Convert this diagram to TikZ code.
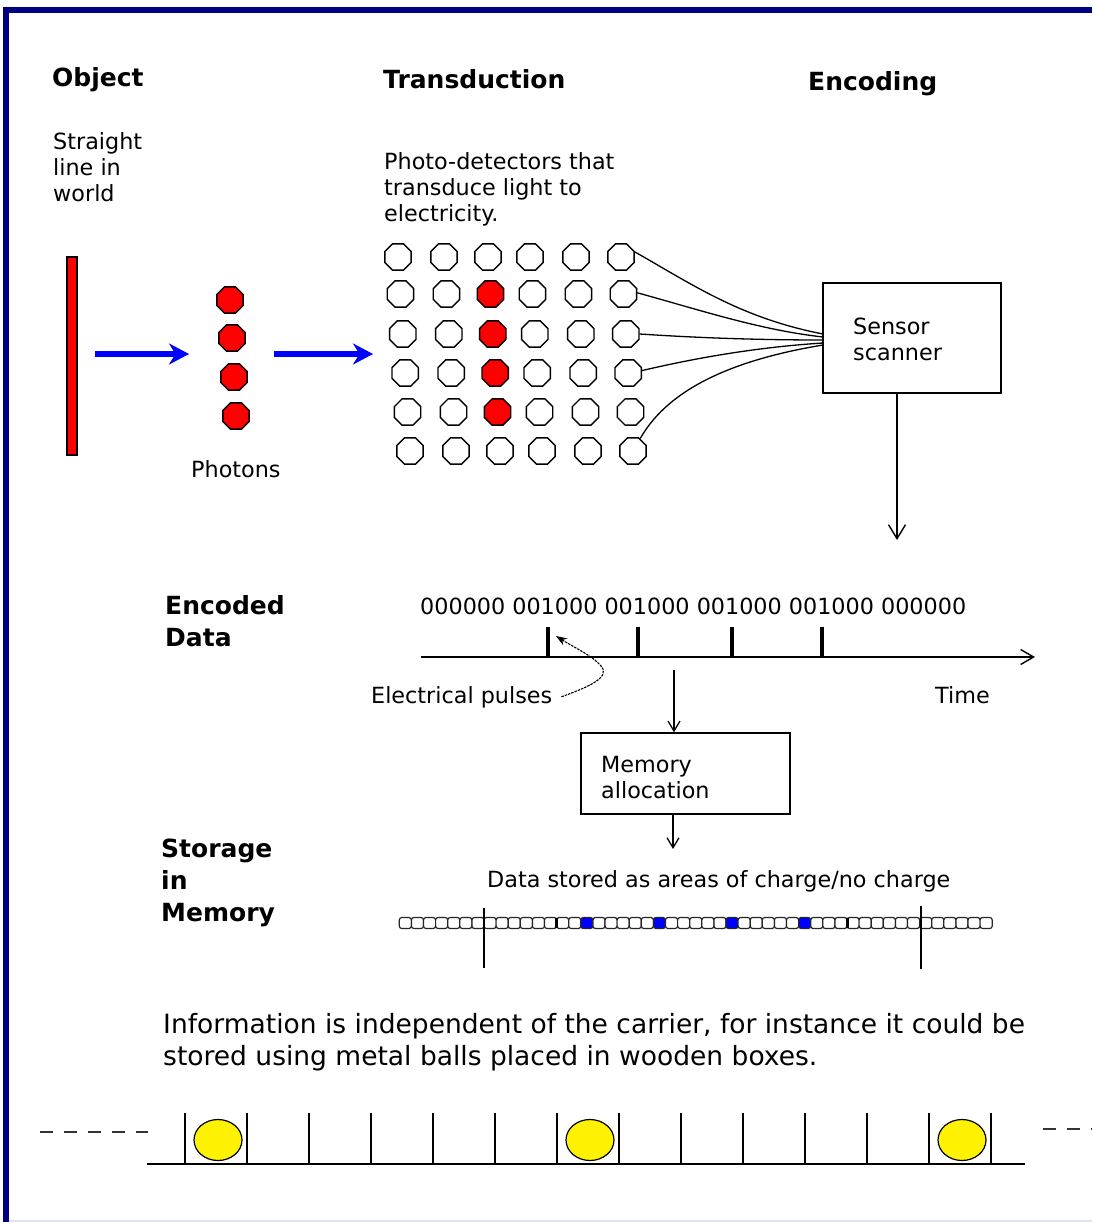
\documentclass[tikz,border=0pt]{standalone}
\usepackage{fontspec}
\setmainfont{DejaVu Sans}
\usetikzlibrary{arrows.meta,shapes.geometric}
\newcommand\nf{\fontsize{22.3pt}{26pt}\selectfont}
\newcommand\hdf{\fontsize{25pt}{32pt}\selectfont\bfseries}
\newcommand\bigf{\fontsize{26.5pt}{32pt}\selectfont}
\definecolor{navy}{RGB}{0,0,128}
\definecolor{paleline}{RGB}{225,225,240}
\begin{document}
\begin{tikzpicture}[x=1pt,y=-1pt,
  txt/.style={font=\nf, anchor=base west, inner sep=0pt},
  hd/.style={font=\hdf, anchor=base west, inner sep=0pt},
  btxt/.style={font=\bigf, anchor=base west, inner sep=0pt},
  det/.style={regular polygon, regular polygon sides=8, minimum size=28.5pt, inner sep=0pt, draw=black, line width=1.4pt},
  framebox/.style={draw=black, line width=1.4pt, rectangle, inner sep=0pt},
  wire/.style={draw=black, line width=1.3pt},
  vline/.style={draw=black, line width=1.4pt},
  barbarrow/.style={draw=black, line width=1.4pt, -{Straight Barb[length=14pt,width=17pt]}},
  smallarrow/.style={draw=black, line width=1.3pt, -{Straight Barb[length=10pt,width=12pt]}},
  bluearrow/.style={draw=blue, line width=5.5pt, -{Stealth[length=20pt,width=21pt]}},
  cell/.style={draw=black!85, rounded corners=2.5pt, line width=1.2pt, minimum width=12.1pt, minimum height=11pt, inner sep=0pt},
  ball/.style={ellipse, draw=black, fill=yellow, minimum width=48pt, minimum height=41pt, inner sep=0pt, line width=1.2pt},
  dashline/.style={draw=black!80, line width=1.4pt, dash pattern=on 13pt off 11pt}
]
\useasboundingbox (0,0) rectangle (1092,1222);
\fill[white] (0,0) rectangle (1092,1222);
% frame
\fill[navy] (3,7) rectangle (1092,13);
\fill[navy] (3,7) rectangle (9,1222);
\draw[paleline, line width=1.5pt] (9,1221) -- (1092,1221);

% headings
\node[hd] (hobj) at (52,87) {Object};
\node[hd] (htr) at (383,89) {Transduction};
\node[hd] (henc) at (808,91) {Encoding};

\node[txt] (s1) at (53,150) {Straight};
\node[txt] (s2) at (53,176) {line in};
\node[txt] (s3) at (53,202) {world};

\node[txt] (pd1) at (384,170) {Photo-detectors that};
\node[txt] (pd2) at (384,196) {transduce light to};
\node[txt] (pd3) at (384,222) {electricity.};

% object bar
\node[draw=black, fill=red, line width=1.3pt, minimum width=10pt, minimum height=198pt, inner sep=0pt] (bar) at (72,356) {};

% photons
\node[det, fill=red] (ph1) at (230,300) {};
\node[det, fill=red] (ph2) at (232,338) {};
\node[det, fill=red] (ph3) at (234,377) {};
\node[det, fill=red] (ph4) at (236,416) {};
\node[txt] (phl) at (191,477) {Photons};

% blue arrows
\coordinate (a1s) at (95,354);
\coordinate (a1e) at (189,354);
\coordinate (a2s) at (274,354);
\coordinate (a2e) at (373,354);
\draw[bluearrow] (a1s) -- (a1e);
\draw[bluearrow] (a2s) -- (a2e);

% detector grid
\foreach \r/\y in {0/257,1/294,2/334,3/373,4/412,5/451} {
  \foreach \c/\x in {0/398,1/444,2/488,3/530,4/576,5/621} {
    \pgfmathtruncatemacro\isred{(\c==2)&&(\r>0)&&(\r<5)}
    \ifnum\isred=1 \def\fc{red}\else\def\fc{white}\fi
    \node[det, fill=\fc] (d\r\c) at ({\x+2.4*\r},\y) {};
  }
}

% sensor scanner
\node[framebox, minimum width=178pt, minimum height=110pt] (sens) at (912,338) {};
\node[txt] (sn1) at (853,334) {Sensor};
\node[txt] (sn2) at (853,360) {scanner};

\coordinate (w0) at (823,334);
\coordinate (w1) at (823,337);
\coordinate (w2) at (823,340);
\coordinate (w3) at (823,343);
\coordinate (w5) at (823,345);
\draw[wire] (d05.20) .. controls (690,283) and (740,318) .. (w0);
\draw[wire] (d15.5) .. controls (700,310) and (760,330) .. (w1);
\draw[wire] (d25.east) .. controls (700,338) and (760,340) .. (w2);
\draw[wire] (d35.10) .. controls (700,357) and (760,347) .. (w3);
\draw[wire] (d55.60) .. controls (665,395) and (720,362) .. (w5);

\coordinate (sdown) at (897,540);
\draw[barbarrow] (sens.south -| sdown) -- (sdown);

% encoded data
\node[hd] (ed1) at (165,614) {Encoded};
\node[hd] (ed2) at (165,646) {Data};
\node[txt] (bits) at (420,614) {000000 001000 001000 001000 001000 000000};

\coordinate (ax0) at (421,657);
\coordinate (ax1) at (1035,657);
\draw[line width=1.4pt, -{Straight Barb[length=13pt,width=15pt]}] (ax0) -- (ax1);
\foreach \x in {548,638,732,822} {
  \draw[line width=4pt] (\x,657) -- (\x,627);
}

\node[txt] (ep) at (371,703) {Electrical pulses};
\node[txt] (time) at (935,703) {Time};
\coordinate (eptip) at (556,636);
\draw[line width=1.1pt, dash pattern=on 2.5pt off 1pt, -{Stealth[length=11pt,width=8pt]}]
  ([xshift=9pt]ep.east) .. controls (585,688) and (612,678) .. (601,666)
  .. controls (593,656) and (575,648) .. (eptip);

% memory allocation
\node[framebox, minimum width=209pt, minimum height=81pt] (mem) at (685.5,773.5) {};
\node[txt] (ma1) at (601,772) {Memory};
\node[txt] (ma2) at (601,798) {allocation};
\coordinate (m0) at (674,670);
\draw[smallarrow] (m0) -- (m0 |- mem.north);
\coordinate (m1) at (673,849);
\draw[smallarrow] (mem.south -| m1) -- (m1);

% storage
\node[hd] (st1) at (161,857) {Storage};
\node[hd] (st2) at (161,889) {in};
\node[hd] (st3) at (161,921) {Memory};
\node[txt] (ds) at (487,887) {Data stored as areas of charge/no charge};

\foreach \i in {0,...,48} {
  \pgfmathtruncatemacro\isblue{(\i==15)||(\i==21)||(\i==27)||(\i==33)}
  \ifnum\isblue=1 \def\fc{blue}\else\def\fc{white}\fi
  \node[cell, fill=\fc] (c\i) at ({399.3+12.1*(\i+0.5)},923) {};
}
\draw[line width=3pt] (556.6,918) -- (556.6,928);
\draw[line width=3pt] (847,918) -- (847,928);
\draw[vline] (484,908) -- (484,968);
\draw[vline] (921,906) -- (921,969);

% information text
\node[btxt] (inf1) at (163,1033) {Information is independent of the carrier, for instance it could be};
\node[btxt] (inf2) at (163,1065) {stored using metal balls placed in wooden boxes.};

% boxes with balls
\draw[vline] (147,1164) -- (1025,1164);
\foreach \k in {0,...,13} {
  \draw[vline] ({185+62*\k},1113) -- ({185+62*\k},1164);
}
\node[ball] (b1) at (218,1140) {};
\node[ball] (b2) at (590,1140) {};
\node[ball] (b3) at (962,1140) {};
\draw[dashline] (40,1132) -- (148,1132);
\draw[dashline] (1043,1129) -- (1092,1129);
\end{tikzpicture}
\end{document}
